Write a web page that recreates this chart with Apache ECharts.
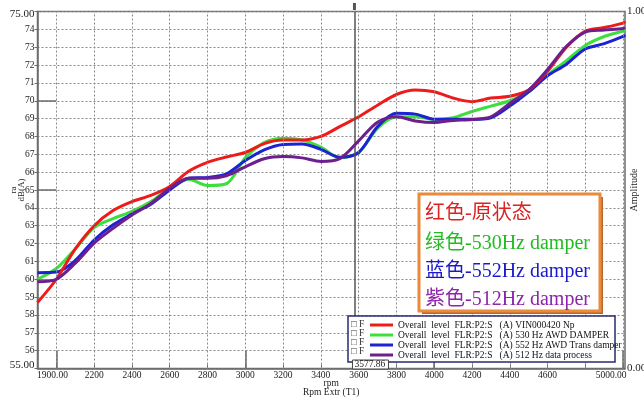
<!DOCTYPE html>
<html><head><meta charset="utf-8">
<script src="https://cdn.jsdelivr.net/npm/echarts@6/dist/echarts.min.js"></script>
<style>html,body{margin:0;padding:0;background:#fff}#c{width:644px;height:400px}</style>
</head><body><div id="c"></div>
<script>
// ---- data ----
const rpm = [1900,2000,2100,2200,2300,2400,2500,2600,2700,2800,2900,3000,3100,3200,3300,3400,3500,3600,3700,3800,3900,4000,4100,4200,4300,4400,4500,4600,4700,4800,4900,5000,5010];
const redVals = [58.7,60.0,61.7,63.0,63.85,64.35,64.7,65.2,66.05,66.55,66.85,67.1,67.6,67.8,67.8,68.0,68.55,69.1,69.75,70.35,70.6,70.5,70.15,69.95,70.15,70.25,70.6,71.65,73.0,73.9,74.1,74.35,74.45];
const greenVals = [60.0,60.6,61.7,62.9,63.4,63.8,64.35,65.1,65.6,65.25,65.35,66.8,67.65,67.9,67.8,67.4,66.8,67.1,68.45,69.1,69.1,68.95,69.05,69.4,69.7,70.0,70.5,71.45,72.25,73.1,73.6,73.9,73.95];
const blueVals = [60.37,60.4,61.05,62.2,63.05,63.65,64.2,65.0,65.66,65.7,65.9,66.65,67.25,67.55,67.58,67.28,66.83,67.1,68.55,69.3,69.25,68.97,68.96,68.96,69.05,69.7,70.5,71.4,72.05,72.9,73.2,73.6,73.7];
const purpleVals = [59.86,60.0,60.9,62.02,62.85,63.6,64.25,65.1,65.66,65.66,65.8,66.3,66.75,66.87,66.8,66.6,66.75,67.75,68.8,69.1,68.87,68.78,68.9,68.95,69.1,69.85,70.6,71.75,73.05,73.85,73.96,74.05,74.1];
const seriesNames = [
  'Overall  level  FLR:P2:S   (A) VIN000420 Np',
  'Overall  level  FLR:P2:S   (A) 530 Hz AWD DAMPER',
  'Overall  level  FLR:P2:S   (A) 552 Hz AWD Trans damper',
  'Overall  level  FLR:P2:S   (A) 512 Hz data process'
];
const xLabelVals = [1900,2200,2400,2600,2800,3000,3200,3400,3600,3800,4000,4200,4400,4600,5000];
const xTickVals = [2000,2200,2400,2600,2800,3000,3200,3400,3600,3800,4000,4200,4400,4600,4800,5000];
const xGridVals = [2000,2200,2400,2600,2800,3000,3200,3400,3600,3800,4000,4200,4400,4600,4800,5000];
const xMajorVals = [2000,3000,4000,5000];
const yMajorVals = [60,65,70];
const cursorRpm = 3577.86;
const cursorText = '3577.86';
const noteLines = ['红色-原状态','绿色-530Hz damper','蓝色-552Hz damper','紫色-512Hz damper'];

// ---- styles ----
const SERIF = "'Liberation Serif','Times New Roman',serif";
const NOTEFONT = "'Liberation Serif','Noto Sans CJK SC',serif";
const lineColors = ['#ee1b1b','#3ddf3d','#1d22d2','#6c1f8e'];
const noteColors = ['#dd2222','#22bb22','#1a1acc','#8e24aa'];
const AX = '#6b6b6b';

const chart = echarts.init(document.getElementById('c'), null, {renderer:'canvas'});
const valSets = [redVals, greenVals, blueVals, purpleVals];
const zOrder = [4,2,3,5];
const dataSeries = valSets.map((vals, i) => ({
  name: seriesNames[i], type:'line', smooth:0.3, symbol:'none', z: zOrder[i],
  data: rpm.map((r, k) => [r, vals[k]]),
  lineStyle:{color: lineColors[i], width:3}, itemStyle:{color: lineColors[i]}
}));

const gridSeries = {
  name:'grid', type:'line', data:[], z:1, silent:true,
  markLine:{
    silent:true, symbol:['none','none'], label:{show:false}, animation:false,
    data: [
      ...xGridVals.map(v => ({xAxis:v, lineStyle:{type:[2,2], color:'#8a8a8a', width:1}})),
      ...xMajorVals.map(v => [{coord:[v,55], lineStyle:{type:'solid', color:AX, width:1.5}}, {coord:[v,56]}]),
      ...yMajorVals.map(v => [{coord:[1900,v], lineStyle:{type:'solid', color:AX, width:1.5}}, {coord:[2000,v]}]),
      {xAxis: cursorRpm, lineStyle:{type:'solid', color:'#555', width:1.5}}
    ]
  }
};

const option = {
  animation:false,
  backgroundColor:'#fff',
  grid:{left:37.5, right:19, top:11.5, bottom:31.5, containLabel:false, outerBoundsMode:'none',
        show:true, borderColor:AX, borderWidth:1.5, backgroundColor:'transparent'},
  xAxis:{
    type:'value', min:1900, max:5010,
    axisLine:{show:true, onZero:false, lineStyle:{color:AX, width:1.5}},
    axisTick:{show:true, inside:true, length:4, customValues:xTickVals, lineStyle:{color:AX}},
    splitLine:{show:false},
    axisLabel:{
      customValues:xLabelVals, margin:2, color:'#222', fontFamily:SERIF, fontSize:9.5,
      formatter: v => v === 1900 ? '{l|1900.00}' : (v === 5000 ? '{r|5000.00}' : String(v)),
      rich:{
        l:{padding:[0,0,0,30], fontFamily:SERIF, fontSize:9.5, color:'#222'},
        r:{padding:[0,24,0,0], fontFamily:SERIF, fontSize:9.5, color:'#222'}
      }
    },
    name:'rpm\nRpm Extr (T1)', nameLocation:'middle', nameGap:10, nameMoveOverlap:false,
    nameTextStyle:{fontFamily:SERIF, fontSize:9.5, lineHeight:9, color:'#222'}
  },
  yAxis:[{
    type:'value', min:55, max:75, interval:1, position:'left',
    axisLine:{show:true, onZero:false, lineStyle:{color:AX, width:1.5}},
    axisTick:{show:true, length:3, lineStyle:{color:AX}},
    splitLine:{show:true, lineStyle:{type:[2,2], color:'#8a8a8a', width:1}},
    axisLabel:{
      margin:3, color:'#222', fontFamily:SERIF, fontSize:9.5,
      formatter: v => v === 75 ? '{t|75.00}' : (v === 55 ? '{b|55.00}' : String(v)),
      rich:{
        t:{padding:[6,0,0,0], fontFamily:SERIF, fontSize:11, color:'#222'},
        b:{padding:[0,0,7,0], fontFamily:SERIF, fontSize:11, color:'#222'}
      }
    },
    name:'ra\ndB(A)', nameLocation:'middle', nameRotate:90, nameGap:12, nameMoveOverlap:false,
    nameTextStyle:{fontFamily:SERIF, fontSize:9, lineHeight:8, color:'#222'}
  },{
    type:'value', min:0, max:1, interval:1, position:'right',
    axisLine:{show:false}, axisTick:{show:false}, splitLine:{show:false},
    axisLabel:{margin:2, color:'#222', fontFamily:SERIF, fontSize:11, formatter: v => v.toFixed(2)},
    name:'Amplitude', nameLocation:'middle', nameRotate:90, nameGap:4, nameMoveOverlap:false,
    nameTextStyle:{fontFamily:SERIF, fontSize:10, color:'#222'}
  }],
  legend:{
    data: seriesNames, orient:'vertical', left:370, top:320, padding:0, itemGap:0,
    itemWidth:23, itemHeight:3, icon:'rect', selectedMode:false, z:6,
    textStyle:{fontFamily:SERIF, fontSize:9.5, lineHeight:9, color:'#111'}
  },
  series:[gridSeries, ...dataSeries]
};
chart.setOption(option);

const cx = chart.convertToPixel({xAxisIndex:0}, cursorRpm);
const rowY = [324.5, 333.5, 342.5, 351.5];
const noteY = [214, 244, 272, 300];
chart.setOption({
  graphic:[
    {type:'rect', z:5, shape:{x:348, y:316, width:267, height:46}, style:{fill:'#fff', stroke:'#2a2a6e', lineWidth:1.5}},
    ...rowY.map(y => ({type:'text', z:7, x:351, y:y, style:{text:'□ F', fontFamily:SERIF, fontSize:9.5, fill:'#333', verticalAlign:'middle'}})),
    {type:'rect', z:7, shape:{x:cx-2, y:360, width:36, height:9}, style:{fill:'#fff', stroke:'#444', lineWidth:1}},
    {type:'text', z:8, x:cx, y:364.8, style:{text:cursorText, fontFamily:SERIF, fontSize:9.5, fill:'#222', verticalAlign:'middle'}},
    {type:'rect', z:7, shape:{x:cx-1.5, y:3, width:3, height:7}, style:{fill:'#555'}},
    {type:'rect', z:7, shape:{x:422, y:197, width:181, height:117}, style:{fill:'#b8672e'}},
    {type:'rect', z:8, shape:{x:419, y:194, width:181, height:117}, style:{fill:'#fff', stroke:'#ea8b3c', lineWidth:3}},
    ...noteLines.map((t, i) => ({type:'text', z:9, x:425, y:noteY[i], style:{text:t, fontFamily:NOTEFONT, fontSize:20, fill:noteColors[i], verticalAlign:'middle'}}))
  ]
});
</script></body></html>
